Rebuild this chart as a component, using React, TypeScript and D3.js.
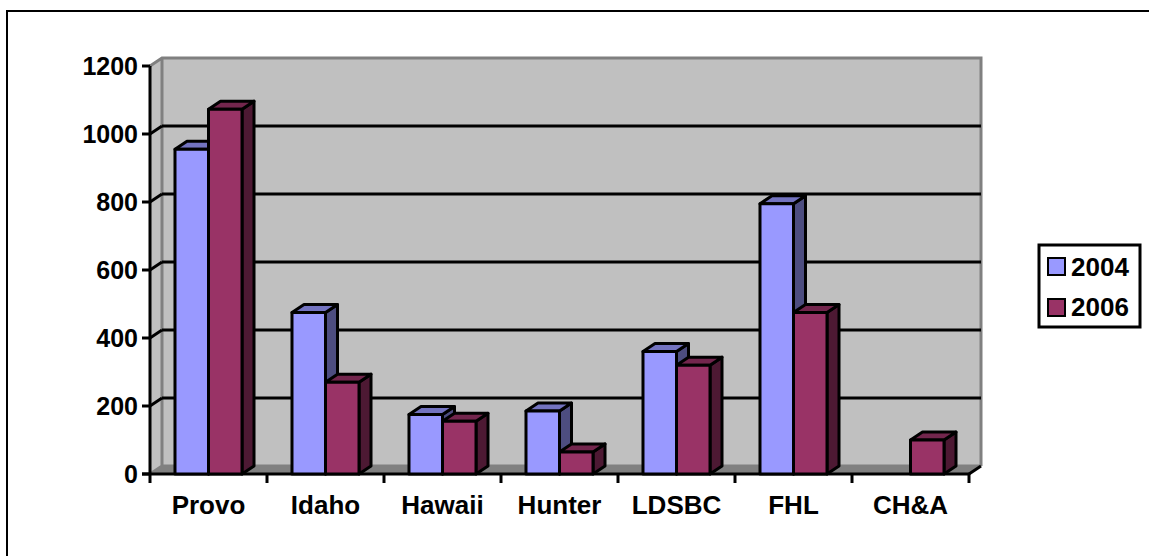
import React from 'react';
import * as d3 from 'd3';

const categories = ['Provo', 'Idaho', 'Hawaii', 'Hunter', 'LDSBC', 'FHL', 'CH&A'];
const years = ['2004', '2006'];
const values2004 = [955, 475, 175, 185, 360, 795, 0];
const values2006 = [1073, 270, 155, 65, 320, 475, 100];
const yTicks = [0, 200, 400, 600, 800, 1000, 1200];

const colors: Record<string, { front: string; top: string; side: string }> = {
  '2004': { front: '#9999ff', top: '#7373c0', side: '#4d4d80' },
  '2006': { front: '#993366', top: '#73264d', side: '#4d1933' },
};

const width = 1149;
const height = 556;
const depthX = 12; // 3d offset of the back wall
const depthY = 8;
const font = 'Liberation Sans, Arial, sans-serif';
const tickFontSize = 25;
const labelFontSize = 26;
const sw = 3;

const x0 = d3.scaleBand<string>().domain(categories).range([150, 969]);
const x1 = d3.scaleBand<string>()
  .domain(years)
  .range([0, x0.bandwidth()])
  .paddingInner(0)
  .paddingOuter(0.746);
const y = d3.scaleLinear().domain([0, 1200]).range([474, 66]);

const left = x0.range()[0];
const right = x0.range()[1];
const bottom = y(0);
const top = y(1200);

export default function App() {
  const bars = years.flatMap((yr, i) =>
    categories.map((c, j) => ({ yr, c, v: (i === 0 ? values2004 : values2006)[j] })),
  ).filter(d => d.v > 0);
  // 2004 first so the 2006 bar covers its side
  bars.sort((a, b) => categories.indexOf(a.c) - categories.indexOf(b.c) || a.yr.localeCompare(b.yr));

  return (
    <svg
      width={width}
      height={height}
      style={{ position: 'absolute', left: 0, top: 0, fontFamily: font }}
    >
      <rect x={0} y={0} width={width} height={height} fill="#fff" />
      <path d={`M7,${height}V11H${width}`} fill="none" stroke="#000" strokeWidth={2} />

      {/* walls */}
      <polygon
        points={`${left + depthX},${top - depthY} ${right + depthX},${top - depthY} ${right + depthX},${bottom - depthY} ${left + depthX},${bottom - depthY}`}
        fill="#c0c0c0"
      />
      <polygon
        points={`${left},${top} ${left + depthX},${top - depthY} ${left + depthX},${bottom - depthY} ${left},${bottom}`}
        fill="#c0c0c0"
      />
      <polygon
        points={`${left},${bottom} ${left + depthX},${bottom - depthY} ${right + depthX},${bottom - depthY} ${right},${bottom}`}
        fill="#808080"
      />
      <path
        d={`M${left},${top}L${left + depthX},${top - depthY}H${right + depthX}V${bottom - depthY}M${left + depthX},${top - depthY}V${bottom - depthY}H${right + depthX}M${left},${bottom}L${left + depthX},${bottom - depthY}`}
        fill="none"
        stroke="#808080"
        strokeWidth={sw}
      />

      {/* gridlines */}
      {yTicks.slice(1, -1).map(t => (
        <g key={t}>
          <line x1={left + depthX} x2={right + depthX} y1={y(t) - depthY} y2={y(t) - depthY} stroke="#000" strokeWidth={sw} />
          <line x1={left} x2={left + depthX} y1={y(t)} y2={y(t) - depthY} stroke="#000" strokeWidth={sw} />
        </g>
      ))}
      <line x1={right} x2={right + depthX} y1={bottom} y2={bottom - depthY} stroke="#000" strokeWidth={sw} />

      {/* axes */}
      <line x1={left} x2={left} y1={top} y2={bottom + 9} stroke="#000" strokeWidth={sw} />
      <line x1={left - 8} x2={right} y1={bottom} y2={bottom} stroke="#000" strokeWidth={sw} />
      {yTicks.map(t => (
        <g key={t}>
          <line x1={left - 8} x2={left} y1={y(t)} y2={y(t)} stroke="#000" strokeWidth={sw} />
          <text x={left - 12} y={y(t)} textAnchor="end" dominantBaseline="central" fontSize={tickFontSize} fontWeight={700}>
            {t}
          </text>
        </g>
      ))}
      {categories.map(c => (
        <line key={c} x1={x0(c)! + x0.bandwidth()} x2={x0(c)! + x0.bandwidth()} y1={bottom} y2={bottom + 9} stroke="#000" strokeWidth={sw} />
      ))}

      {/* bars */}
      {bars.map(d => {
        const bx = x0(d.c)! + x1(d.yr)!;
        const w = x1.bandwidth();
        const by = y(d.v);
        const col = colors[d.yr];
        return (
          <g key={d.c + d.yr} stroke="#000" strokeWidth={sw} strokeLinejoin="round">
            <polygon
              points={`${bx + w},${by} ${bx + w + depthX},${by - depthY} ${bx + w + depthX},${bottom - depthY} ${bx + w},${bottom}`}
              fill={col.side}
            />
            <polygon
              points={`${bx},${by} ${bx + depthX},${by - depthY} ${bx + w + depthX},${by - depthY} ${bx + w},${by}`}
              fill={col.top}
            />
            <rect x={bx} y={by} width={w} height={bottom - by} fill={col.front} />
          </g>
        );
      })}

      {/* category labels */}
      {categories.map(c => (
        <text key={c} x={x0(c)! + x0.bandwidth() / 2} y={505} textAnchor="middle" dominantBaseline="central" fontSize={labelFontSize} fontWeight={700}>
          {c}
        </text>
      ))}

      {/* legend */}
      <rect x={1039} y={245} width={101} height={82} fill="#fff" stroke="#000" strokeWidth={sw} />
      {years.map((yr, i) => (
        <g key={yr}>
          <rect x={1048} y={258 + i * 41} width={17} height={17} fill={colors[yr].front} stroke="#000" strokeWidth={2} />
          <text x={1071} y={267 + i * 40} dominantBaseline="central" fontSize={labelFontSize} fontWeight={700}>
            {yr}
          </text>
        </g>
      ))}
    </svg>
  );
}
